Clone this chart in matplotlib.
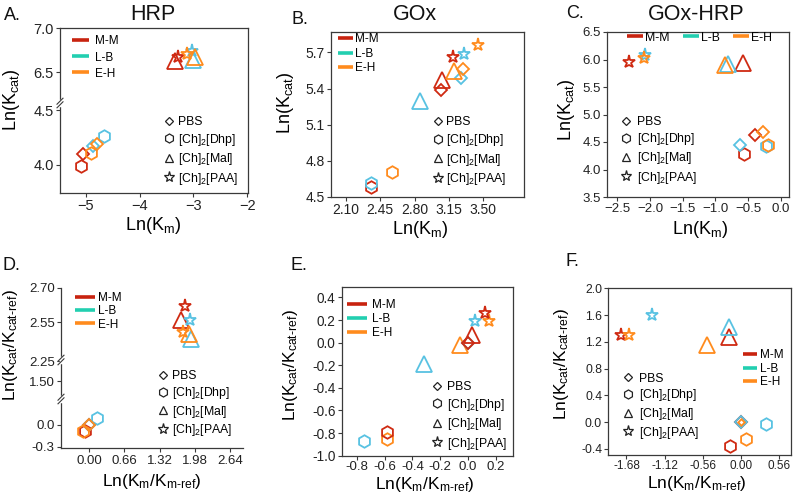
import numpy as np
import matplotlib
matplotlib.use('Agg')
import matplotlib.pyplot as plt
from matplotlib.lines import Line2D
from matplotlib.legend import Legend

plt.rcParams['font.family'] = ['Liberation Sans', 'DejaVu Sans']
plt.rcParams['mathtext.fontset'] = 'custom'
plt.rcParams['mathtext.rm'] = 'Liberation Sans'
plt.rcParams['mathtext.it'] = 'Liberation Sans:italic'
plt.rcParams['axes.unicode_minus'] = False

# DATA
groups = ['M-M', 'L-B', 'E-H']
conditions = ['PBS', r'[Ch]$_2$[Dhp]', r'[Ch]$_2$[Mal]', r'[Ch]$_2$[PAA]']

# rows = M-M, L-B, E-H ; columns = PBS, Dhp, Mal, PAA
hrp_km = [[-5.05, -5.09, -3.34, -3.29], [-4.87, -4.66, -3.00, -3.03], [-4.80, -4.91, -2.97, -3.12]]
hrp_kcat = [[4.10, 3.99, 6.62, 6.67], [4.17, 4.26, 6.64, 6.74], [4.19, 4.11, 6.67, 6.70]]

gox_km = [[3.07, 2.35, 3.08, 3.19], [3.27, 2.35, 2.86, 3.30], [3.29, 2.57, 3.20, 3.45]]
gox_kcat = [[5.39, 4.58, 5.47, 5.66], [5.49, 4.62, 5.30, 5.69], [5.56, 4.71, 5.55, 5.76]]

goxhrp_km = [[-0.39, -0.56, -0.57, -2.32], [-0.62, -0.22, -0.80, -2.07], [-0.27, -0.20, -0.85, -2.09]]
goxhrp_kcat = [[4.62, 4.28, 5.94, 5.95], [4.45, 4.43, 5.92, 6.09], [4.69, 4.45, 5.90, 6.02]]

hrp_rel_km = [[0.0, -0.08, 1.72, 1.80], [0.0, 0.15, 1.90, 1.89], [0.0, -0.11, 1.88, 1.76]]
hrp_rel_kcat = [[0.0, -0.09, 2.56, 2.62], [0.0, 0.09, 2.48, 2.56], [0.0, -0.09, 2.50, 2.51]]

gox_rel_km = [[0.0, -0.58, 0.03, 0.12], [0.0, -0.75, -0.32, 0.05], [0.0, -0.58, -0.06, 0.15]]
gox_rel_kcat = [[0.0, -0.79, 0.07, 0.26], [0.0, -0.87, -0.19, 0.19], [0.0, -0.85, -0.02, 0.19]]

goxhrp_rel_km = [[0.0, -0.16, -0.17, -1.76], [0.0, 0.37, -0.17, -1.31], [0.0, 0.08, -0.50, -1.64]]
goxhrp_rel_kcat = [[0.0, -0.35, 1.28, 1.30], [0.0, -0.03, 1.42, 1.60], [0.0, -0.25, 1.16, 1.30]]

a_xticks = [-5, -4, -3, -2]
a_yticks = [4.0, 4.5, 6.5, 7.0]
b_xticks = [2.10, 2.45, 2.80, 3.15, 3.50]
b_yticks = [4.5, 4.8, 5.1, 5.4, 5.7]
c_xticks = [-2.5, -2.0, -1.5, -1.0, -0.5, 0.0]
c_yticks = [3.5, 4.0, 4.5, 5.0, 5.5, 6.0, 6.5]
d_xticks = [0.0, 0.66, 1.32, 1.98, 2.64]
d_yticks = [-0.3, 0.0, 1.50, 2.25, 2.55, 2.70]
d_ylabels = ['-0.3', '0.0', '1.50', '2.25', '2.55', '2.70']
e_xticks = [-0.8, -0.6, -0.4, -0.2, 0.0, 0.2]
e_yticks = [-1.0, -0.8, -0.6, -0.4, -0.2, 0.0, 0.2, 0.4]
f_xticks = [-1.68, -1.12, -0.56, 0.0, 0.56]
f_yticks = [-0.4, 0.0, 0.4, 0.8, 1.2, 1.6, 2.0]

# STYLE
line_colors = ['#c8230f', '#22cfb0', '#ff8b1d']
marker_colors = ['#cf2a12', '#58c2e2', '#ff8b1d']
markers = ['D', 'h', '^', '*']
msizes = [6, 9, 11, 9.5]
spine_col = '#3a3a3a'

W, H = 796, 496
fig = plt.figure(figsize=(W / 100, H / 100), dpi=100)


def add_axes(box):
    l, t, r, b = box
    return fig.add_axes([l / W, 1 - b / H, (r - l) / W, (b - t) / H])


def frac(box, px, py):
    l, t, r, b = box
    return (px - l) / (r - l), (b - py) / (b - t)


def broken(dk, pk):
    dk = np.asarray(dk, float)
    pk = np.asarray(pk, float)
    return (lambda v: np.interp(v, dk, pk)), (lambda v: np.interp(v, pk, dk))


def break_mark(ax, box, yf):
    l, t, r, b = box
    w, h = r - l, b - t
    ax.plot([0, 0], [yf - 2 / h, yf + 2 / h], color='white', lw=2.5,
            transform=ax.transAxes, clip_on=False, zorder=5)
    for off in (-1.8, 1.8):
        ax.plot([-3 / w, 3 / w], [yf + (off - 3) / h, yf + (off + 3) / h], color=spine_col,
                lw=0.8, transform=ax.transAxes, clip_on=False, zorder=6)


def style(ax, fs, open_frame=False):
    for s in ax.spines.values():
        s.set_color(spine_col)
        s.set_linewidth(0.9)
    if open_frame:
        ax.spines['top'].set_visible(False)
        ax.spines['right'].set_visible(False)
    ax.tick_params(direction='out', length=3, width=0.8, pad=1.5, labelsize=fs,
                   color=spine_col, labelcolor='#222222')


def draw_points(ax, xs, ys, order=(0, 1, 2), small=None):
    for g in order:
        for c in range(4):
            ms = msizes[c] * (0.55 if small == (g, c) else 1.0)
            ax.plot(xs[g][c], ys[g][c], ls='none', marker=markers[c], ms=ms, mfc='none',
                    mec=marker_colors[g], mew=1.3, zorder=3, clip_on=False)


def legend_at(ax, box, handles, labels, x0, text_x, y_first, y_last, nrows, fs, hl,
              ncol=1, colsp=1.0, rowh=1.05):
    F = fs * 100 / 72
    htp = (text_x - x0 - hl * F) / F
    pitch = (y_last - y_first) / (nrows - 1) if nrows > 1 else 0
    lsp = (pitch - rowh * F) / F if nrows > 1 else 0.5
    ax_x, ax_y = frac(box, x0, (y_first + y_last) / 2)
    leg = Legend(ax, handles, labels, loc='center left', bbox_to_anchor=(ax_x, ax_y),
                 frameon=False, borderpad=0, borderaxespad=0, handlelength=hl,
                 handletextpad=htp, labelspacing=lsp, fontsize=fs, ncol=ncol,
                 columnspacing=colsp)
    ax.add_artist(leg)


def group_legend(ax, box, x0, x1, text_x, y_first, y_last, fs, ncol=1, colsp=1.0):
    hs = [Line2D([], [], color=c, lw=2.6, solid_capstyle='butt') for c in line_colors]
    F = fs * 100 / 72
    legend_at(ax, box, hs, groups, x0, text_x, y_first, y_last, 3 if ncol == 1 else 1,
              fs, (x1 - x0) / F, ncol=ncol, colsp=colsp)


def cond_legend(ax, box, mx, text_x, y_first, y_last, fs):
    sizes = [4.5, 6.5, 6, 8]
    hs = [Line2D([], [], ls='none', marker=m, ms=s, mfc='none', mec='#222222', mew=0.9)
          for m, s in zip(markers, sizes)]
    F = fs * 100 / 72
    hl = 0.8
    legend_at(ax, box, hs, conditions, mx - hl * F / 2, text_x, y_first, y_last, 4, fs, hl)


def labels(ax, box, xl, yl, xpos, ypos, fs):
    ax.set_xlabel(xl, fontsize=fs, va='baseline')
    ax.set_ylabel(yl, fontsize=fs, va='baseline')
    ax.xaxis.set_label_coords(*frac(box, *xpos))
    ax.yaxis.set_label_coords(*frac(box, *ypos))


def header(text, px, py, fs):
    fig.text(px / W, 1 - py / H, text, fontsize=fs, ha='center', va='center', color='#111111')


minus = lambda vals, fmt: [fmt.format(v).replace('-', '\u2212') for v in vals]

lab_kcat = r'Ln(K$_{\mathrm{cat}}$)'
lab_km = r'Ln(K$_{\mathrm{m}}$)'
lab_rkcat = 'Ln(K$_{\\mathrm{cat}}$/K$_{\\mathrm{cat\u2010ref}}$)'
lab_rkm = 'Ln(K$_{\\mathrm{m}}$/K$_{\\mathrm{m\u2010ref}}$)'

# A. HRP
box = (60, 28, 248, 193)
ax = add_axes(box)
ax.set_yscale('function', functions=broken([3.745, 4.564, 6.148, 7.0], [0, 90, 90.01, 165]))
draw_points(ax, hrp_km, hrp_kcat)
ax.set_xlim(-5.484, -1.984)
ax.set_ylim(3.745, 7.0)
ax.set_xticks(a_xticks, minus(a_xticks, '{:.0f}'))
ax.set_yticks(a_yticks, ['{:.1f}'.format(v) for v in a_yticks])
style(ax, 10.5)
break_mark(ax, box, 90 / 165)
group_legend(ax, box, 72, 89, 95, 41, 74, 8.5)
cond_legend(ax, box, 169, 178, 127, 176, 8.8)
labels(ax, box, lab_km, lab_kcat, (153, 230), (16, 100), 13)
header('A.', 12, 15, 13)
header('HRP', 153, 15, 15.5)

# B. GOx
box = (331, 32, 524, 197)
ax = add_axes(box)
draw_points(ax, gox_km, gox_kcat)
ax.set_xlim(1.947, 3.916)
ax.set_ylim(4.5, 5.87)
ax.set_xticks(b_xticks, ['{:.2f}'.format(v) for v in b_xticks])
ax.set_yticks(b_yticks, ['{:.1f}'.format(v) for v in b_yticks])
style(ax, 10)
group_legend(ax, box, 337.7, 353, 355, 39, 68.3, 8.5)
cond_legend(ax, box, 437.7, 446, 126.7, 176.7, 8.8)
labels(ax, box, lab_km, lab_kcat, (420, 234), (290, 103), 13)
header('B.', 300, 20, 13)
header('GOx', 415, 14, 15.5)

# C. GOx-HRP
box = (607, 32, 789, 197)
ax = add_axes(box)
draw_points(ax, goxhrp_km, goxhrp_kcat)
ax.set_xlim(-2.657, 0.127)
ax.set_ylim(3.5, 6.5)
ax.set_xticks(c_xticks, minus(c_xticks, '{:.1f}'))
ax.set_yticks(c_yticks, ['{:.1f}'.format(v) for v in c_yticks])
style(ax, 9.5)
group_legend(ax, box, 627, 643, 645, 37.7, 37.7, 8.8, ncol=3, colsp=1.1)
cond_legend(ax, box, 626, 637, 126.7, 175, 8.8)
labels(ax, box, lab_km, lab_kcat, (700, 234), (571, 110), 13)
header('C.', 575, 14, 13)
header('GOx-HRP', 696, 14, 15.5)

# D.
box = (61, 287.7, 243, 448.3)
ax = add_axes(box)
ax.set_yscale('function', functions=broken([-0.323, 0.36, 0.825, 2.29, 2.387, 2.70],
                                           [0, 49.3, 49.31, 88.3, 88.31, 160.6]))
draw_points(ax, hrp_rel_km, hrp_rel_kcat)
ax.set_xlim(-0.531, 2.884)
ax.set_ylim(-0.323, 2.70)
ax.set_xticks(d_xticks, ['{:.2f}'.format(v) for v in d_xticks])
ax.set_yticks(d_yticks, d_ylabels)
style(ax, 9.5, open_frame=True)
break_mark(ax, box, 88.3 / 160.6)
break_mark(ax, box, 49.3 / 160.6)
group_legend(ax, box, 75, 95, 98.3, 297.3, 325, 8.5)
cond_legend(ax, box, 162.7, 172, 381, 427.7, 8.8)
labels(ax, box, lab_rkm, lab_rkcat, (151.7, 486), (15, 345), 12.5)
header('D.', 11, 266, 13)

# E.
box = (341.7, 287.3, 513.3, 455.7)
ax = add_axes(box)
draw_points(ax, gox_rel_km, gox_rel_kcat, order=(2, 1, 0))
ax.set_xlim(-0.909, 0.326)
ax.set_ylim(-1.0, 0.49)
ax.set_xticks(e_xticks, ['{:.1f}'.format(v) for v in e_xticks])
ax.set_yticks(e_yticks, ['{:.1f}'.format(v) for v in e_yticks])
style(ax, 9.8)
ax.tick_params(axis='x', pad=1, labelsize=9.5)
group_legend(ax, box, 346.7, 366.7, 371.7, 305, 333.3, 8.5)
cond_legend(ax, box, 436.7, 447, 391.7, 441, 8.8)
labels(ax, box, lab_rkm, lab_rkcat, (425, 489), (295, 365), 12.5)
header('E.', 299, 265, 13)

# F.
box = (608.3, 288.3, 791, 455)
ax = add_axes(box)
draw_points(ax, goxhrp_rel_km, goxhrp_rel_kcat, small=(2, 0))
ax.set_xlim(-1.947, 0.74)
ax.set_ylim(-0.49, 2.0)
ax.set_xticks(f_xticks, ['{:.2f}'.format(v) for v in f_xticks])
ax.set_yticks(f_yticks, ['{:.1f}'.format(v) for v in f_yticks])
style(ax, 8.7)
ax.tick_params(axis='x', pad=0.8, labelsize=8.5)
group_legend(ax, box, 742.7, 756.7, 760, 355, 382.3, 8.5)
cond_legend(ax, box, 628.3, 639, 383.3, 430, 8.8)
labels(ax, box, lab_rkm, lab_rkcat, (697, 488), (566, 364), 12.5)
header('F.', 572, 262, 13)

fig.savefig('out.png', dpi=100)
